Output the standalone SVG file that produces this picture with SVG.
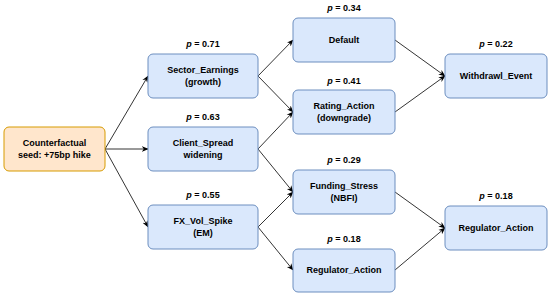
<svg xmlns="http://www.w3.org/2000/svg" width="550" height="297" viewBox="0 0 550 297">
<defs>
<marker id="arr" viewBox="0 0 10 10" refX="9" refY="5" markerWidth="7" markerHeight="7" markerUnits="userSpaceOnUse" orient="auto">
<path d="M0,1 L10,5 L0,9 L3,5 Z" fill="#000"/>
</marker>
<style>
.b{fill:#dae8fc;stroke:#6c8ebf;stroke-width:1}
.s{fill:#ffe6cc;stroke:#d79b00;stroke-width:1}
text{font-family:"Liberation Sans",Arial,Helvetica,sans-serif;font-weight:bold;font-size:9px;fill:#000;text-anchor:middle}
.e{fill:none;stroke:#000;stroke-width:0.8;marker-end:url(#arr)}
</style>
</defs>
<rect width="550" height="297" fill="#fff"/>
<g id="connectors">
<line class="e" x1="105" y1="149" x2="148" y2="76"/>
<line class="e" x1="105" y1="149" x2="148" y2="149"/>
<line class="e" x1="105" y1="149" x2="148" y2="227"/>
<line class="e" x1="258" y1="76" x2="293" y2="40"/>
<line class="e" x1="258" y1="76" x2="293" y2="112"/>
<line class="e" x1="258" y1="149" x2="293" y2="112"/>
<line class="e" x1="258" y1="149" x2="293" y2="192"/>
<line class="e" x1="258" y1="227" x2="293" y2="192"/>
<line class="e" x1="258" y1="227" x2="293" y2="270"/>
<line class="e" x1="395" y1="40" x2="445" y2="76"/>
<line class="e" x1="395" y1="112" x2="445" y2="76"/>
<line class="e" x1="395" y1="192" x2="445" y2="228"/>
<line class="e" x1="395" y1="270" x2="445" y2="228"/>
</g>
<g id="seed">
<rect class="s" x="4" y="127" width="101" height="44" rx="5"/>
<text x="54.5" y="146">Counterfactual</text>
<text x="54.5" y="158">seed: +75bp hike</text>
</g>
<g id="sector">
<text x="203" y="47"><tspan font-style="italic">p</tspan> = 0.71</text>
<rect class="b" x="148" y="54" width="110" height="44" rx="5"/>
<text x="203" y="73">Sector_Earnings</text>
<text x="203" y="85">(growth)</text>
</g>
<g id="client">
<text x="203" y="120"><tspan font-style="italic">p</tspan> = 0.63</text>
<rect class="b" x="148" y="127" width="110" height="44" rx="5"/>
<text x="203" y="146">Client_Spread</text>
<text x="203" y="158">widening</text>
</g>
<g id="fx">
<text x="203" y="198"><tspan font-style="italic">p</tspan> = 0.55</text>
<rect class="b" x="148" y="205" width="110" height="44" rx="5"/>
<text x="203" y="224">FX_Vol_Spike</text>
<text x="203" y="236">(EM)</text>
</g>
<g id="default">
<text x="344" y="11"><tspan font-style="italic">p</tspan> = 0.34</text>
<rect class="b" x="293" y="18" width="102" height="44" rx="5"/>
<text x="344" y="43">Default</text>
</g>
<g id="rating">
<text x="344" y="84"><tspan font-style="italic">p</tspan> = 0.41</text>
<rect class="b" x="293" y="90" width="102" height="44" rx="5"/>
<text x="344" y="109">Rating_Action</text>
<text x="344" y="121">(downgrade)</text>
</g>
<g id="funding">
<text x="344" y="163"><tspan font-style="italic">p</tspan> = 0.29</text>
<rect class="b" x="293" y="170" width="102" height="44" rx="5"/>
<text x="344" y="189">Funding_Stress</text>
<text x="344" y="201">(NBFI)</text>
</g>
<g id="regulator1">
<text x="344" y="242"><tspan font-style="italic">p</tspan> = 0.18</text>
<rect class="b" x="293" y="249" width="102" height="43" rx="5"/>
<text x="344" y="273">Regulator_Action</text>
</g>
<g id="withdrawl">
<text x="496" y="47"><tspan font-style="italic">p</tspan> = 0.22</text>
<rect class="b" x="445" y="54" width="102" height="44" rx="5"/>
<text x="496" y="79">Withdrawl_Event</text>
</g>
<g id="regulator2">
<text x="496" y="199"><tspan font-style="italic">p</tspan> = 0.18</text>
<rect class="b" x="445" y="206" width="102" height="44" rx="5"/>
<text x="496" y="231">Regulator_Action</text>
</g>
</svg>
